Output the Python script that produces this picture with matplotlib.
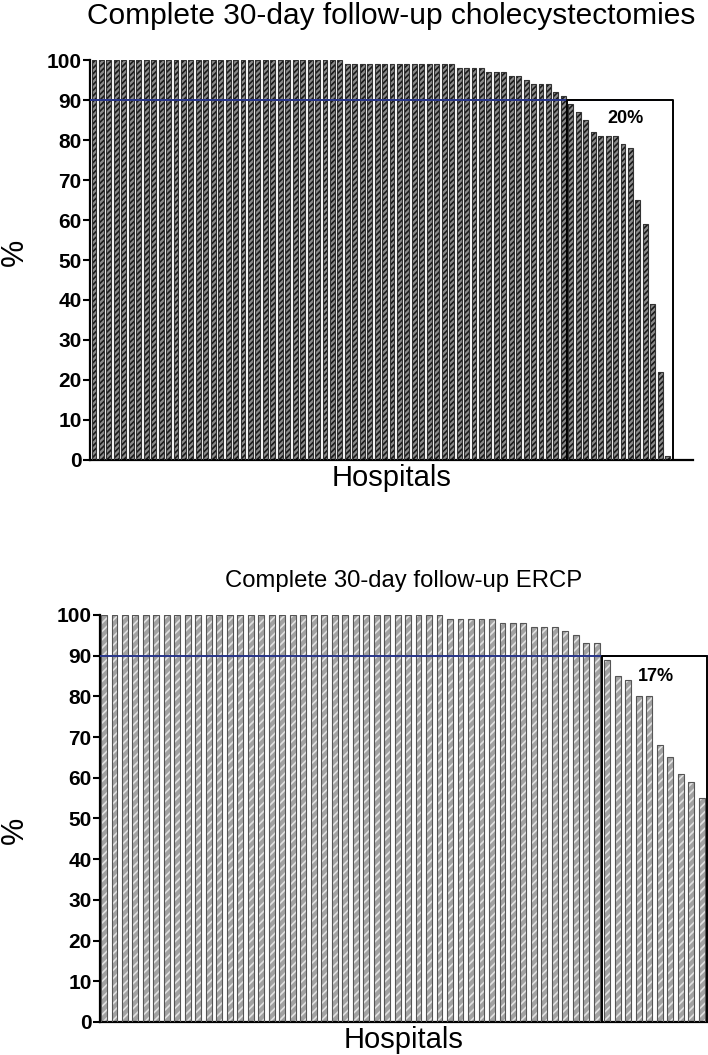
import matplotlib
matplotlib.use("Agg")
import matplotlib.pyplot as plt
import numpy as np

plt.rcParams['font.family'] = ['Liberation Sans', 'DejaVu Sans']

# --- Data ---
chole_values = ([100] * 34 + [99] * 15 + [98] * 4 + [97] * 3 + [96] * 2 + [95] + [94] * 3
                + [92, 91, 89, 87, 85, 82, 81, 81, 81, 79, 78, 65, 59, 39, 22, 1])
ercp_values = ([100] * 33 + [99] * 5 + [98] * 3 + [97] * 3 + [96, 95, 93, 93]
               + [89, 85, 84, 80, 80, 68, 65, 61, 59, 55])
target = 90
chole_share = "20%"
ercp_share = "17%"
yticks = list(range(0, 101, 10))

BLUE = '#27358a'


def draw_panel(ax, values, face, hatch_col, edge, hatch, width, xlim, box_left, box_right,
               line_end, share, share_xy, title, title_size, title_pad):
    x = np.arange(len(values))
    ax.bar(x, values, width=width, color=face, edgecolor=hatch_col, hatch=hatch,
           linewidth=0, zorder=2)
    ax.bar(x, values, width=width, fill=False, edgecolor=edge, linewidth=0.8, zorder=3)

    ax.set_xlim(*xlim)
    ax.set_ylim(0, 100)
    ax.set_yticks(yticks)
    ax.set_xticks([])
    for lab in ax.get_yticklabels():
        lab.set_fontweight('bold')
    ax.tick_params(axis='y', labelsize=15, width=1.5, length=5, direction='out', pad=1)

    ax.spines['top'].set_visible(False)
    ax.spines['right'].set_visible(False)
    ax.spines['left'].set_linewidth(1.6)
    ax.spines['bottom'].set_linewidth(1.6)

    ax.plot([xlim[0], line_end], [target, target], color=BLUE, lw=1.4, zorder=4,
            solid_capstyle='butt')
    ax.plot([box_left, box_left, box_right, box_right], [0, target, target, 0],
            color='black', lw=1.4, zorder=5)
    ax.text(share_xy[0], share_xy[1], share, fontsize=13, fontweight='bold',
            ha='center', va='center', zorder=6)

    ax.set_title(title, fontsize=title_size, pad=title_pad)
    ax.set_xlabel("Hospitals", fontsize=21, labelpad=3)


fig = plt.figure(figsize=(7.08, 10.55), dpi=100)

plt.rcParams['hatch.linewidth'] = 1.2
ax1 = fig.add_axes([0.1271, 0.5640, 0.8517, 0.3791])
draw_panel(ax1, chole_values, '#8a8a8a', '#1a1a1a', '#333333', '//////', 0.66,
           (-0.54, 80.4), 63.5, 77.7, 76.0, chole_share, (71.3, 85.5),
           "Complete 30-day follow-up cholecystectomies", 21.5, 26)

ax2 = fig.add_axes([0.1412, 0.0313, 0.8588, 0.3858])
draw_panel(ax2, ercp_values, '#a2a2a2', '#e2e2e2', '#555555', '////', 0.56,
           (-0.38, 57.6), 47.5, 57.55, 57.6, ercp_share, (52.6, 84.8),
           "Complete 30-day follow-up ERCP", 17.2, 20)

# "%" axis labels sit at the far left of the figure
fig.text(15 / 708, 1 - 252 / 1055, "%", fontsize=22, rotation=90, ha='center', va='center')
fig.text(15 / 708, 1 - 830 / 1055, "%", fontsize=22, rotation=90, ha='center', va='center')

fig.savefig("out.png", dpi=100)
